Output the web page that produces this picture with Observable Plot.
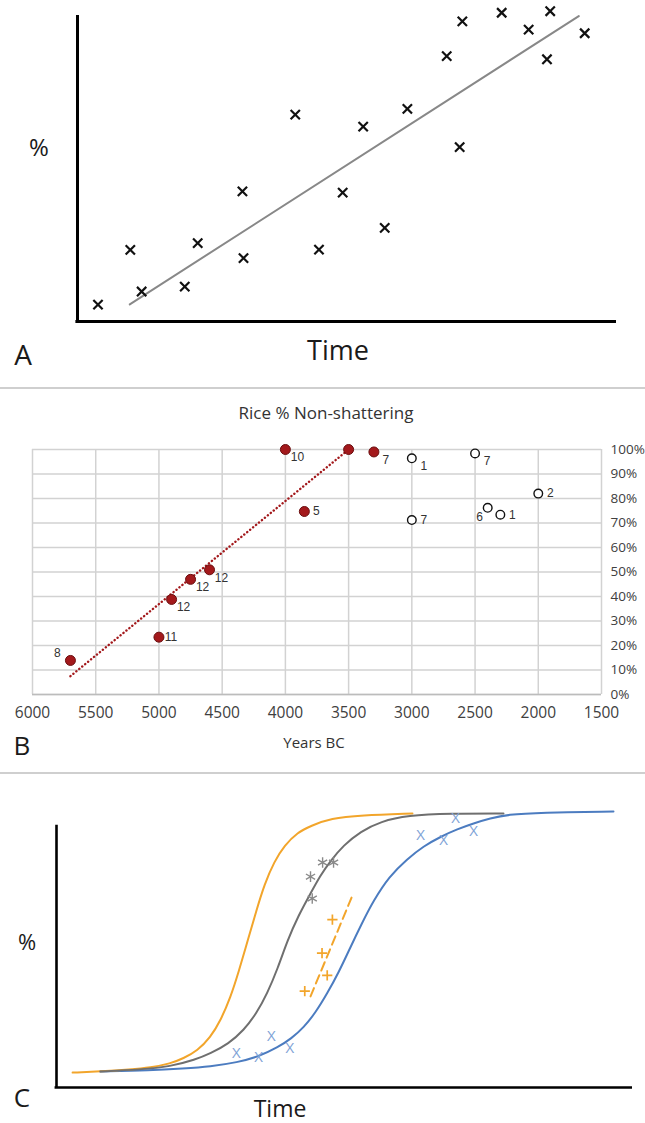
<!DOCTYPE html>
<html>
<head>
<meta charset="utf-8">
<script src="https://cdn.jsdelivr.net/npm/d3@7"></script>
<script src="https://cdn.jsdelivr.net/npm/@observablehq/plot@0.6"></script>
<style>
  html, body { margin: 0; padding: 0; background: #fff; }
  #root { position: relative; width: 645px; height: 1123px; overflow: hidden; font-family: "Open Sans", sans-serif; }
  .panel { position: absolute; left: 0; }
  .lbl { position: absolute; transform: translate(-50%, -50%); white-space: nowrap; line-height: 1; color: #1a1a1a; }
  .sep { position: absolute; left: 0; width: 645px; height: 1.5px; background: #cfcfcf; }
</style>
</head>
<body>
<div id="root"></div>
<script>
// ---------- Panel A (schematic, arbitrary units) ----------
const aTime = [3.8, 9.8, 11.9, 19.9, 22.3, 30.6, 30.8, 40.4, 44.8, 49.2, 53.0, 57.0, 61.2, 68.5, 70.9, 71.4, 78.7, 83.7, 87.1, 87.7, 94.1];
const aPct  = [5.5, 23.4, 9.8, 11.4, 25.6, 42.5, 20.7, 67.6, 23.5, 42.1, 63.7, 30.6, 69.5, 86.7, 57.0, 98.1, 100.9, 95.4, 85.7, 101.4, 94.2];
const aTrendTime = [9.7, 93.0];
const aTrendPct  = [5.6, 99.8];

// ---------- Panel B: Rice % Non-shattering ----------
const bYearTicks = [6000, 5500, 5000, 4500, 4000, 3500, 3000, 2500, 2000, 1500];
const bPctTicks  = [0, 10, 20, 30, 40, 50, 60, 70, 80, 90, 100];
const filledYears  = [5700, 5000, 4900, 4750, 4600, 4000, 3850, 3500, 3300];
const filledPct    = [13.9, 23.4, 38.8, 47.0, 50.9, 100, 74.7, 100, 99.0];
const filledLabels = ["8", "11", "12", "12", "12", "10", "5", "", "7"];
const filledSides  = ["aboveLeft", "right", "belowRight", "belowRight", "belowRight", "belowRight", "right", "none", "belowRight"];
const openYears  = [3000, 3000, 2500, 2400, 2300, 2000];
const openPct    = [96.4, 71.2, 98.4, 76.2, 73.4, 82.0];
const openLabels = ["1", "7", "7", "6", "1", "2"];
const openSides  = ["belowRight", "right", "belowRight", "belowLeft", "right", "right"];
const bTrendYears = [5700, 3500];
const bTrendPct   = [7.5, 100];

// ---------- Panel C (schematic curves, arbitrary units) ----------
const orangeT = [2.8, 7.6, 12.8, 16.3, 19.8, 22.0, 24.5, 26.7, 28.5, 30.2, 31.6, 33.2, 34.7, 36.1, 37.8, 39.6, 41.8, 44.3, 47.6, 52.8, 61.8];
const orangeP = [5.4, 5.8, 6.5, 7.2, 8.7, 10.5, 13.4, 18.1, 24.3, 32.6, 41.7, 53.3, 64.1, 73.6, 81.9, 87.7, 92.4, 94.9, 97.5, 98.6, 99.3];
const grayT = [7.6, 14.6, 19.8, 24.1, 26.7, 29.9, 32.5, 34.7, 36.6, 38.4, 40.1, 42.0, 44.1, 45.8, 47.6, 49.8, 52.8, 56.3, 60.9, 68.4, 77.6];
const grayP = [5.8, 6.5, 7.6, 10.1, 12.3, 15.9, 20.7, 26.8, 34.1, 43.1, 53.3, 62.3, 70.3, 76.8, 82.2, 87.7, 92.8, 96.4, 98.6, 99.3, 99.3];
const blueT = [7.6, 16.3, 22.0, 26.7, 31.4, 35.1, 38.4, 40.8, 42.9, 45.0, 47.0, 49.0, 51.0, 53.0, 55.0, 57.8, 60.9, 63.7, 66.7, 69.6, 72.4, 75.3, 78.3, 84.0, 96.7];
const blueP = [5.8, 6.2, 6.9, 7.6, 9.1, 11.2, 14.5, 17.8, 21.7, 27.2, 34.1, 41.7, 50.7, 59.4, 67.6, 76.6, 82.8, 87.4, 90.9, 93.6, 95.7, 97.5, 98.9, 99.6, 100];
const blueMarkT = [31.2, 35.1, 37.3, 40.5, 63.2, 67.2, 69.3, 72.4];
const blueMarkP = [12.4, 11.0, 18.6, 14.4, 91.3, 89.7, 97.4, 92.8];
const grayMarkT = [44.1, 44.4, 46.2, 48.1];
const grayMarkP = [76.4, 68.5, 81.5, 81.5];
const orangeMarkT = [43.1, 46.1, 47.0, 47.9];
const orangeMarkP = [34.9, 48.7, 40.6, 60.8];
const orangeDashT = [44.1, 51.5];
const orangeDashP = [33.0, 70.2];

// ---------- helpers ----------
const zip = (xs, ys) => xs.map((x, i) => ({x, y: ys[i]}));
const root = document.getElementById("root");
function place(node, top) {
  const d = document.createElement("div");
  d.className = "panel";
  d.style.top = top + "px";
  d.appendChild(node);
  root.appendChild(d);
}
function label(text, cx, cy, size, extra) {
  const d = document.createElement("div");
  d.className = "lbl";
  d.textContent = text;
  d.style.left = cx + "px";
  d.style.top = cy + "px";
  d.style.fontSize = size + "px";
  if (extra) Object.assign(d.style, extra);
  root.appendChild(d);
}
function sep(y) {
  const d = document.createElement("div");
  d.className = "sep";
  d.style.top = y + "px";
  root.appendChild(d);
}

// ---------- Panel A ----------
const plotA = Plot.plot({
  width: 645, height: 330,
  marginLeft: 77, marginRight: 29, marginTop: 15, marginBottom: 9,
  x: {domain: [0, 100], axis: null},
  y: {domain: [0, 100], axis: null},
  marks: [
    Plot.ruleX([0], {y1: 0, y2: 100, stroke: "#000", strokeWidth: 3}),
    Plot.ruleY([0], {x1: -0.3, x2: 100, stroke: "#000", strokeWidth: 3}),
    Plot.line(zip(aTrendTime, aTrendPct), {x: "x", y: "y", stroke: "#888", strokeWidth: 2}),
    Plot.dot(zip(aTime, aPct), {x: "x", y: "y", symbol: "times", r: 4.3, stroke: "#111", strokeWidth: 2.2})
  ]
});
place(plotA, 0);
label("%", 39, 147, 24);
label("Time", 338, 349, 27);
label("A", 23, 354, 28);
sep(387);

// ---------- Panel B ----------
const RED = "#a3191c", RED_DARK = "#6a0f10";
const offsets = {right: [12, 0], belowRight: [12, 8], aboveLeft: [-13, -7], belowLeft: [-8, 9]};
const filled = filledYears.map((year, i) => ({year, pct: filledPct[i], lab: filledLabels[i], side: filledSides[i]}));
const open = openYears.map((year, i) => ({year, pct: openPct[i], lab: openLabels[i], side: openSides[i]}));
const allPts = filled.concat(open);
const labelMarks = Object.entries(offsets).map(([side, [dx, dy]]) =>
  Plot.text(allPts.filter(d => d.side === side), {
    x: "year", y: "pct", text: "lab", dx, dy,
    fontFamily: "Liberation Sans, Arial, sans-serif", fontSize: 12, fill: "#333"
  })
);
const plotB = Plot.plot({
  width: 645, height: 330,
  marginLeft: 32, marginRight: 44, marginTop: 19, marginBottom: 66,
  x: {domain: [6000, 1500]},
  y: {domain: [0, 100]},
  style: {fontFamily: "Open Sans, sans-serif", fontSize: "15.5px", color: "#404040", background: "transparent"},
  marks: [
    Plot.gridX({ticks: bYearTicks, stroke: "#d2d2d2", strokeOpacity: 1, strokeWidth: 1.5}),
    Plot.gridY({ticks: bPctTicks, stroke: "#d2d2d2", strokeOpacity: 1, strokeWidth: 1.5}),
    Plot.ruleY([0], {stroke: "#bcbcbc", strokeWidth: 1.5}),
    Plot.axisX({ticks: bYearTicks, tickSize: 0, tickPadding: 12, label: null, tickFormat: d => String(d), fontSize: 15.5}),
    Plot.axisY({anchor: "right", ticks: bPctTicks, tickSize: 0, tickPadding: 9, label: null, tickFormat: d => d + "%", fontSize: 13.5}),
    Plot.line(zip(bTrendYears, bTrendPct), {x: "x", y: "y", stroke: RED, strokeWidth: 2.4, strokeDasharray: "0.1,3.7", strokeLinecap: "round"}),
    Plot.dot(filled, {x: "year", y: "pct", r: 5, fill: RED, stroke: RED_DARK, strokeWidth: 1}),
    Plot.dot(open, {x: "year", y: "pct", r: 4.3, fill: "#fff", stroke: "#111", strokeWidth: 1.4}),
    ...labelMarks
  ]
});
place(plotB, 430);
label("Rice % Non-shattering", 326, 412, 17, {color: "#333"});
label("Years BC", 314, 742, 15, {color: "#333"});
label("B", 22, 745, 26);
sep(772);

// ---------- Panel C ----------
const ORANGE = "#f2a52b", GRAY = "#6f6f6f", BLUE = "#4c7cc0", BLUE_LIGHT = "#7ea2d6";
const plotC = Plot.plot({
  width: 645, height: 310,
  marginLeft: 56, marginRight: 13, marginTop: 21, marginBottom: 13,
  x: {domain: [0, 100], axis: null},
  y: {domain: [0, 100], axis: null},
  style: {background: "transparent"},
  marks: [
    Plot.ruleX([0], {y1: 0, y2: 95, stroke: "#000", strokeWidth: 2.6}),
    Plot.ruleY([0], {x1: -0.25, x2: 100, stroke: "#000", strokeWidth: 2.6}),
    Plot.line(zip(blueT, blueP), {x: "x", y: "y", stroke: BLUE, strokeWidth: 2, curve: "basis"}),
    Plot.line(zip(orangeT, orangeP), {x: "x", y: "y", stroke: ORANGE, strokeWidth: 2, curve: "basis"}),
    Plot.line(zip(grayT, grayP), {x: "x", y: "y", stroke: GRAY, strokeWidth: 2, curve: "basis"}),
    Plot.line(zip(orangeDashT, orangeDashP), {x: "x", y: "y", stroke: ORANGE, strokeWidth: 2, strokeDasharray: "9,5"}),
    Plot.dot(zip(orangeMarkT, orangeMarkP), {x: "x", y: "y", symbol: "plus", r: 3.4, stroke: ORANGE, strokeWidth: 1.7}),
    Plot.dot(zip(grayMarkT, grayMarkP), {x: "x", y: "y", symbol: "asterisk", r: 5, stroke: "#8a8a8a", strokeWidth: 1.4}),
    Plot.text(zip(blueMarkT, blueMarkP), {x: "x", y: "y", text: () => "X", fontFamily: "Open Sans, sans-serif", fontSize: 15, fill: BLUE_LIGHT, lineAnchor: "middle"})
  ]
});
place(plotC, 790);
label("%", 27, 941, 22);
label("Time", 280, 1108, 23);
label("C", 22, 1097, 26);
</script>
</body>
</html>
